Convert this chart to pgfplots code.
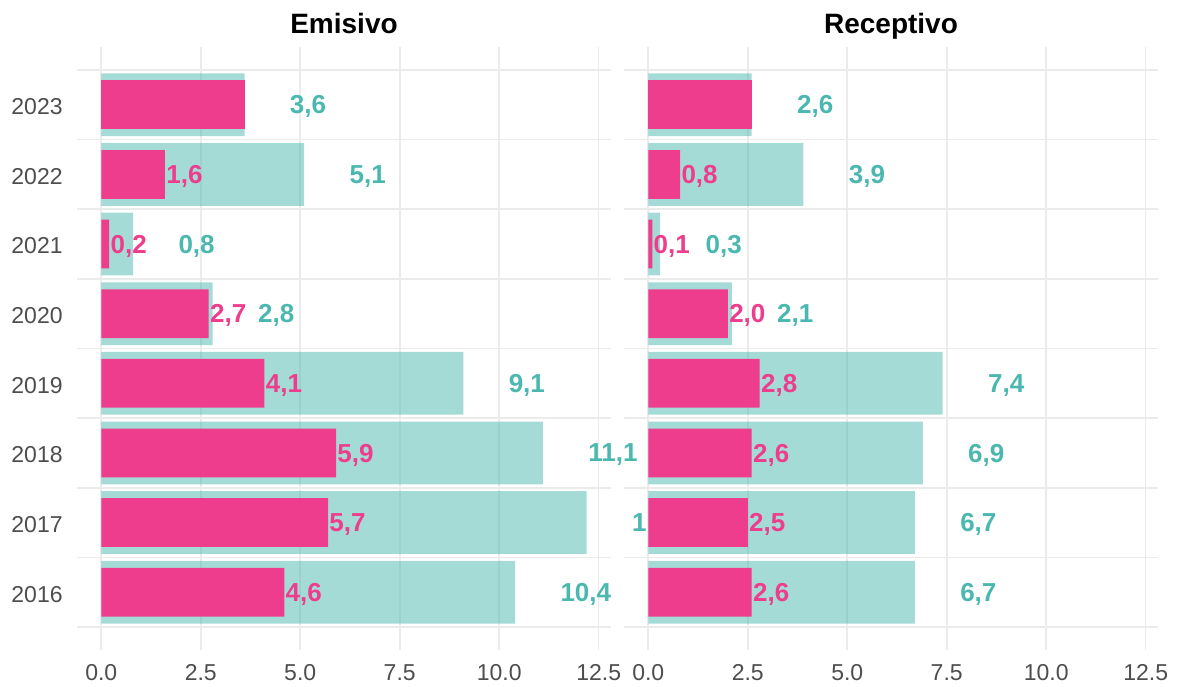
\documentclass[border=0pt]{standalone}
\usepackage{pgfplots}
\usepackage{pgfplotstable}
\pgfplotsset{compat=1.18}
\usepackage{fontspec}
\setmainfont{Liberation Sans}
\definecolor{tealc}{HTML}{4BB8B0}
\definecolor{pinkc}{HTML}{EE3D8C}
\definecolor{gridc}{HTML}{EBEBEB}
\definecolor{tickc}{HTML}{4D4D4D}

\pgfplotstableread{
yr v lab
2016 10.4 10,4
2017 12.2 12,2
2018 11.1 11,1
2019 9.1 9,1
2020 2.8 2,8
2021 0.8 0,8
2022 5.1 5,1
2023 3.6 3,6
}\emiT
\pgfplotstableread{
yr v lab
2016 4.6 4,6
2017 5.7 5,7
2018 5.9 5,9
2019 4.1 4,1
2020 2.7 2,7
2021 0.2 0,2
2022 1.6 1,6
}\emiP
\pgfplotstableread{
yr v
2023 3.6
}\emiPb
\pgfplotstableread{
yr v lab
2016 6.7 6,7
2017 6.7 6,7
2018 6.9 6,9
2019 7.4 7,4
2020 2.1 2,1
2021 0.3 0,3
2022 3.9 3,9
2023 2.6 2,6
}\recT
\pgfplotstableread{
yr v lab
2016 2.6 2,6
2017 2.5 2,5
2018 2.6 2,6
2019 2.8 2,8
2020 2.0 2,0
2021 0.1 0,1
2022 0.8 0,8
}\recP
\pgfplotstableread{
yr v
2023 2.6
}\recPb

\pgfplotsset{
 panel/.style={
  width=267pt, height=301.5pt, scale only axis,
  xmin=-0.61, xmax=12.81, ymin=2015.17, ymax=2023.83,
  xtick={0,2.5,5,7.5,10,12.5}, xticklabels={0.0,2.5,5.0,7.5,10.0,12.5},
  ytick={2016,2017,2018,2019,2020,2021,2022,2023},
  yticklabels={2016,2017,2018,2019,2020,2021,2022,2023},
  minor ytick={2015.5,2016.5,2017.5,2018.5,2019.5,2020.5,2021.5,2022.5,2023.5},
  xmajorgrids=true, ymajorgrids=false, yminorgrids=true,
  major grid style={gridc, line width=0.8pt},
  minor grid style={gridc, line width=0.8pt},
  axis line style={draw=none},
  major tick length=0pt, minor tick length=0pt, tick style={draw=none},
  ticklabel style={font=\fontsize{11.5}{13}\selectfont, text=tickc, inner sep=0pt},
  xticklabel style={yshift=-7pt},
  yticklabel style={xshift=-7pt, yshift=-1pt},
  every axis title shift=0pt,
  title style={at={(0.5,1)}, anchor=base, yshift=7pt, inner sep=0pt, font=\bfseries\fontsize{14}{16}\selectfont},
  /pgf/number format/assume math mode=true,
  clip=false,
 },
 tbar/.style={xbar, bar shift=0pt, bar width=0.9, fill=tealc, fill opacity=0.5, draw=none},
 pbar/.style={xbar, bar shift=0pt, bar width=0.7, fill=pinkc, draw=none},
 tlab/.style={draw=none, mark=none, nodes near coords, point meta=explicit symbolic,
   every node near coord/.append style={anchor=west, xshift=22.5pt, yshift=-1pt, inner sep=0pt, text=tealc, font=\bfseries\fontsize{13}{15}\selectfont}},
 plab/.style={draw=none, mark=none, nodes near coords, point meta=explicit symbolic,
   every node near coord/.append style={anchor=west, xshift=0.5pt, yshift=-1pt, inner sep=0pt, text=pinkc, font=\bfseries\fontsize{13}{15}\selectfont}},
}

\begin{document}
\begin{tikzpicture}
\path[use as bounding box] (-38.5pt,-18pt) rectangle (550.5pt,325pt);
\begin{axis}[panel, title={Emisivo}, at={(0pt,0pt)}, anchor=south west]
\addplot[tbar] table[x=v, y=yr]{\emiT};
\addplot[pbar] table[x=v, y=yr]{\emiP};
\addplot[pbar] table[x=v, y=yr]{\emiPb};
\addplot[tlab] table[x=v, y=yr, meta=lab]{\emiT};
\addplot[plab] table[x=v, y=yr, meta=lab]{\emiP};
\end{axis}
\begin{axis}[panel, title={Receptivo}, at={(273.5pt,0pt)}, anchor=south west, yticklabels={}]
\addplot[tbar] table[x=v, y=yr]{\recT};
\addplot[pbar] table[x=v, y=yr]{\recP};
\addplot[pbar] table[x=v, y=yr]{\recPb};
\addplot[tlab] table[x=v, y=yr, meta=lab]{\recT};
\addplot[plab] table[x=v, y=yr, meta=lab]{\recP};
\end{axis}
\end{tikzpicture}
\end{document}
